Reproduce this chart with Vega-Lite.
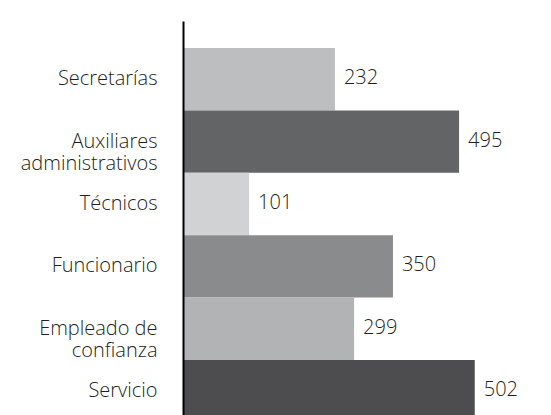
{
  "$schema": "https://vega.github.io/schema/vega-lite/v6.json",
  "width": 348,
  "height": 428.4,
  "autosize": {"type": "none"},
  "padding": {"left": 183, "top": 21, "right": 20, "bottom": 0},
  "background": "white",
  "data": {
    "values": [
      {"category": "Secretarías", "value": 232, "bar_length": 262},
      {"category": "Auxiliares\nadministrativos", "value": 495, "bar_length": 476},
      {"category": "Técnicos", "value": 101, "bar_length": 114},
      {"category": "Funcionario", "value": 350, "bar_length": 362},
      {"category": "Empleado de\nconfianza", "value": 299, "bar_length": 295},
      {"category": "Servicio", "value": 502, "bar_length": 503}
    ]
  },
  "encoding": {
    "y": {
      "field": "category",
      "type": "nominal",
      "sort": null,
      "scale": {"paddingInner": 0, "paddingOuter": 0.433},
      "axis": {
        "title": null,
        "ticks": false,
        "domain": true,
        "domainColor": "#000000",
        "domainWidth": 2,
        "zindex": 1,
        "labelPadding": 26,
        "labelFont": "Open Sans",
        "labelFontSize": 20,
        "labelFontWeight": 300,
        "labelColor": "#231F20",
        "labelLimit": 0,
        "labelLineHeight": 22,
        "labelExpr": "split(datum.label, '\\n')"
      }
    }
  },
  "layer": [
    {
      "mark": {"type": "bar"},
      "encoding": {
        "x": {
          "field": "bar_length",
          "type": "quantitative",
          "scale": {"domain": [0, 600], "nice": false},
          "axis": null
        },
        "color": {
          "field": "category",
          "type": "nominal",
          "legend": null,
          "scale": {
            "domain": ["Secretarías", "Auxiliares\nadministrativos", "Técnicos", "Funcionario", "Empleado de\nconfianza", "Servicio"],
            "range": ["#BDBEC0", "#636466", "#D1D2D4", "#8A8B8D", "#B1B3B5", "#4D4D4F"]
          }
        }
      }
    },
    {
      "mark": {
        "type": "text",
        "align": "left",
        "baseline": "middle",
        "dx": 9,
        "dy": -1,
        "font": "Open Sans",
        "fontSize": 20,
        "fontWeight": 300,
        "color": "#231F20"
      },
      "encoding": {
        "x": {"field": "bar_length", "type": "quantitative"},
        "text": {"field": "value", "type": "quantitative"}
      }
    }
  ],
  "config": {"view": {"stroke": null}}
}
